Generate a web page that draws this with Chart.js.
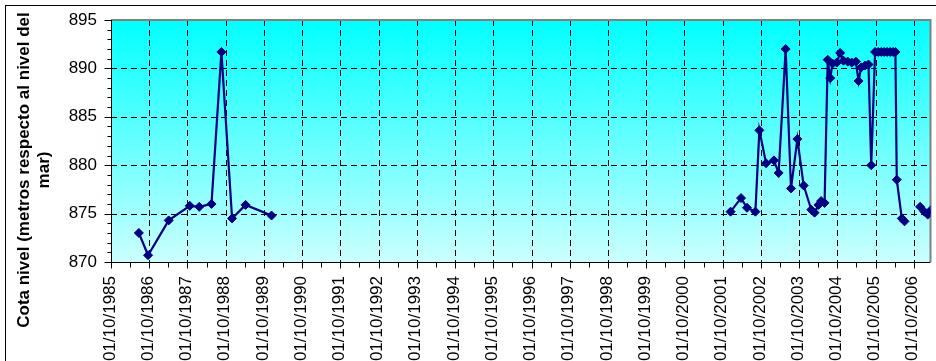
<!DOCTYPE html>
<html>
<head>
<meta charset="utf-8">
<script src="https://cdn.jsdelivr.net/npm/chart.js@4.4.1/dist/chart.umd.min.js"></script>
<style>
  html, body { margin: 0; padding: 0; background: #fff; overflow: hidden; }
  #marco { width: 936px; height: 361px; position: relative; }
</style>
</head>
<body>
<div id="marco"><canvas id="grafico" width="936" height="361"></canvas></div>
<script>
// Fechas de medición (dd/mm/aaaa); null marca un corte en la serie
const fechas = [
  '24/06/1986', '20/09/1986', '05/04/1987', '23/10/1987', '22/01/1988',
  '18/05/1988', '21/08/1988', '01/12/1988', '09/04/1989', '13/12/1989',
  null,
  '16/12/2001', '26/03/2002', '22/05/2002', '10/08/2002', '17/09/2002',
  '20/11/2002', '03/02/2003', '20/03/2003', '26/05/2003', '16/07/2003',
  '15/09/2003', '14/11/2003', '26/01/2004', '26/02/2004', '04/04/2004',
  '29/04/2004', '01/06/2004', '01/07/2004', '25/07/2004', '16/08/2004',
  '26/09/2004', '28/10/2004', '29/11/2004', '09/01/2005', '16/02/2005',
  '27/03/2005', '22/04/2005', '17/05/2005', '24/06/2005', '26/07/2005',
  '21/08/2005', '27/09/2005', '27/10/2005', '25/11/2005', '23/12/2005',
  '20/01/2006', '18/02/2006', '18/03/2006', '09/04/2006', '22/04/2006',
  '09/06/2006', '05/07/2006',
  null,
  '01/12/2006', '11/01/2007', '12/02/2007', '18/03/2007'
];

// Cota del nivel (m s.n.m.)
const cotas = [
  873.0, 870.7, 874.3, 875.8, 875.7,
  876.0, 891.7, 874.5, 875.9, 874.8,
  null,
  875.2, 876.6, 875.6, 875.2, 883.6,
  880.2, 880.5, 879.2, 892.0, 877.6,
  882.7, 877.9, 875.4, 875.1, 875.9,
  876.3, 876.1, 890.9, 889.0, 890.5,
  890.6, 891.6, 890.8, 890.7, 890.6,
  890.7, 888.7, 890.1, 890.3, 890.4,
  880.0, 891.7, 891.7, 891.7, 891.7,
  891.7, 891.7, 891.7, 891.7, 878.5,
  874.5, 874.2,
  null,
  875.7, 875.2, 874.9, 875.4
];

// Etiquetas del eje de fechas
const etiquetasX = [
  '01/10/1985', '01/10/1986', '01/10/1987', '01/10/1988', '01/10/1989',
  '01/10/1990', '01/10/1991', '01/10/1992', '01/10/1993', '01/10/1994',
  '01/10/1995', '01/10/1996', '01/10/1997', '01/10/1998', '01/10/1999',
  '01/10/2000', '01/10/2001', '01/10/2002', '01/10/2003', '01/10/2004',
  '01/10/2005', '01/10/2006'
];

// Escala de cotas
const cotaMin = 870;
const cotaMax = 895;
const pasoCota = 5;
const fechaFinEje = '10/03/2007';

const tituloY = ['Cota nivel (metros respecto al nivel del', 'mar)'];

const FUENTE = '"Liberation Sans", Arial, sans-serif';
const AZUL = '#000080';

// dd/mm/aaaa -> año decimal
function aAnio(f) {
  if (!f) return null;
  const [d, m, a] = f.split('/').map(Number);
  const t0 = Date.UTC(a, 0, 1), t1 = Date.UTC(a + 1, 0, 1);
  return a + (Date.UTC(a, m - 1, d) - t0) / (t1 - t0);
}

const valoresX = etiquetasX.map(aAnio);
const puntos = fechas.map((f, i) => ({ x: aAnio(f), y: cotas[i] }));

const decorado = {
  id: 'decorado',
  beforeDraw(chart) {
    const { ctx, chartArea: a } = chart;
    ctx.save();
    ctx.fillStyle = '#fff';
    ctx.fillRect(0, 0, chart.width, chart.height);
    // marco exterior
    ctx.strokeStyle = '#000';
    ctx.lineWidth = 1;
    ctx.strokeRect(5.5, 5.5, chart.width + 20, chart.height + 20);
    // fondo degradado del área de trazado
    const g = ctx.createLinearGradient(0, a.top, 0, a.bottom);
    g.addColorStop(0, 'rgb(0,255,255)');
    g.addColorStop(1, 'rgb(204,255,255)');
    ctx.fillStyle = g;
    ctx.fillRect(a.left, a.top, a.right - a.left, a.bottom - a.top);
    ctx.restore();
  },
  beforeDatasetsDraw(chart) {
    const { ctx, chartArea: a, scales: { x, y } } = chart;
    ctx.save();
    ctx.strokeStyle = '#000';
    ctx.lineWidth = 1;
    ctx.setLineDash([6, 4]);
    // líneas de división verticales
    valoresX.forEach(v => {
      const px = Math.round(x.getPixelForValue(v)) + 0.5;
      if (px <= a.left + 1 || px >= a.right - 1) return;
      ctx.beginPath();
      ctx.moveTo(px, a.top);
      ctx.lineTo(px, a.bottom);
      ctx.stroke();
    });
    // líneas de división horizontales
    for (let v = cotaMin + pasoCota; v < cotaMax; v += pasoCota) {
      const py = Math.round(y.getPixelForValue(v)) + 0.5;
      ctx.beginPath();
      ctx.moveTo(a.left, py);
      ctx.lineTo(a.right, py);
      ctx.stroke();
    }
    ctx.setLineDash([]);
    // borde gris del área de trazado
    ctx.strokeStyle = '#808080';
    ctx.lineWidth = 2;
    ctx.beginPath();
    ctx.moveTo(a.left, a.top);
    ctx.lineTo(a.right, a.top);
    ctx.lineTo(a.right, a.bottom);
    ctx.stroke();
    // ejes
    ctx.strokeStyle = '#000';
    ctx.lineWidth = 1;
    const x0 = Math.round(a.left) + 0.5;
    const y0 = Math.round(a.bottom) + 0.5;
    ctx.beginPath();
    ctx.moveTo(x0, a.top);
    ctx.lineTo(x0, y0);
    ctx.lineTo(a.right, y0);
    ctx.stroke();
    // marcas del eje Y (principales y secundarias)
    for (let v = cotaMin; v <= cotaMax; v += 1) {
      const py = Math.round(y.getPixelForValue(v)) + 0.5;
      const largo = (v - cotaMin) % pasoCota === 0 ? 7 : 4;
      ctx.beginPath();
      ctx.moveTo(x0 - largo, py);
      ctx.lineTo(x0, py);
      ctx.stroke();
    }
    // marcas del eje X (años y medios años)
    valoresX.forEach(v => {
      const px = Math.round(x.getPixelForValue(v)) + 0.5;
      ctx.beginPath();
      ctx.moveTo(px, y0);
      ctx.lineTo(px, y0 + 6);
      ctx.stroke();
      const pm = Math.round(x.getPixelForValue(v + 0.5)) + 0.5;
      if (pm < a.right) {
        ctx.beginPath();
        ctx.moveTo(pm, y0);
        ctx.lineTo(pm, y0 + 5);
        ctx.stroke();
      }
    });
    ctx.restore();
  },
  afterDraw(chart) {
    const { ctx } = chart;
    ctx.save();
    ctx.fillStyle = '#000';
    ctx.font = 'bold 17px ' + FUENTE;
    ctx.textAlign = 'center';
    ctx.textBaseline = 'middle';
    ctx.translate(0, 170);
    ctx.rotate(-Math.PI / 2);
    ctx.fillText(tituloY[0], 0, 24);
    ctx.fillText(tituloY[1], 0, 44);
    ctx.restore();
  }
};

new Chart(document.getElementById('grafico'), {
  type: 'line',
  data: {
    datasets: [{
      data: puntos,
      borderColor: AZUL,
      backgroundColor: AZUL,
      borderWidth: 2.2,
      pointStyle: 'rectRot',
      pointRadius: 4.5,
      pointBorderWidth: 1,
      pointBorderColor: AZUL,
      pointBackgroundColor: AZUL,
      tension: 0,
      spanGaps: false,
      fill: false
    }]
  },
  options: {
    responsive: false,
    animation: false,
    events: [],
    layout: { padding: { top: 20, right: 4, left: 0, bottom: 0 } },
    plugins: { legend: { display: false }, tooltip: { enabled: false }, title: { display: false } },
    scales: {
      x: {
        type: 'linear',
        min: valoresX[0],
        max: aAnio(fechaFinEje),
        grid: { display: false, drawTicks: false },
        border: { display: false },
        afterBuildTicks(scale) {
          scale.ticks = valoresX.map(v => ({ value: v }));
        },
        ticks: {
          autoSkip: false,
          minRotation: 90,
          maxRotation: 90,
          padding: 14,
          labelOffset: -1,
          color: '#000',
          font: { family: FUENTE, size: 17 },
          callback(value, index) { return etiquetasX[index]; }
        },
        afterFit(scale) {
          scale.height = 99;
          scale.paddingLeft = 0;
          scale.paddingRight = 0;
        }
      },
      y: {
        min: cotaMin,
        max: cotaMax,
        grid: { display: false, drawTicks: false },
        border: { display: false },
        ticks: {
          stepSize: pasoCota,
          padding: 14,
          color: '#000',
          font: { family: FUENTE, size: 17 }
        },
        afterFit(scale) {
          scale.width = 111;
          scale.paddingTop = 0;
          scale.paddingBottom = 0;
        }
      }
    }
  },
  plugins: [decorado]
});
</script>
</body>
</html>
